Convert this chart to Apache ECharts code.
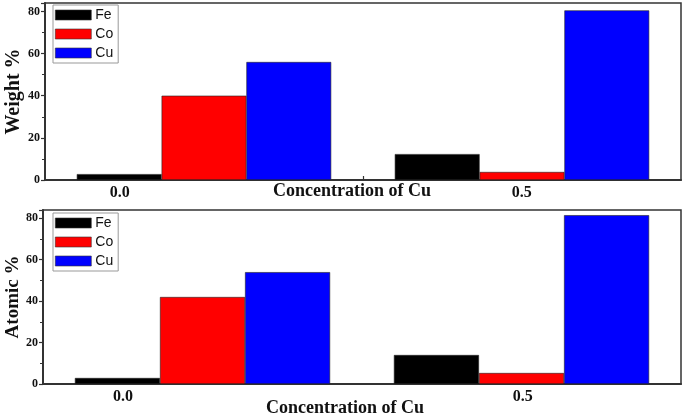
<!DOCTYPE html>
<html><head><meta charset="utf-8">
<script src="https://cdn.jsdelivr.net/npm/echarts@6/dist/echarts.min.js"></script>
<style>html,body{margin:0;padding:0;background:#fff}#c{width:685px;height:414px}</style>
</head><body><div id="c"></div>
<script>
const categories = ['0.0', '0.5'];
const elements = ['Fe', 'Co', 'Cu'];
const weightFe = [2.8, 12.3];
const weightCo = [40, 3.8];
const weightCu = [56, 80.5];
const atomicFe = [2.9, 14];
const atomicCo = [42, 5.3];
const atomicCu = [54, 81.5];
const concLabels = [0, 0.5];
const bottomTicks = [0, 0.25, 0.5];
const yTickLabels = [0, 20, 40, 60, 80];
const colors = ['#000000', '#ff0000', '#0000ff'];

const serif = 'Liberation Serif';
const axisColor = '#333';

function topTicks(min, max) {
  const out = [];
  for (let i = 1; i < 10; i++) out.push(min + i * (max - min) / 10);
  return out;
}

function valueX(gridIndex, min, max, ticks, namePadRight, nameGap, labelMargin) {
  return {
    type: 'value', gridIndex, position: 'bottom', min, max,
    axisLine: { show: true, onZero: false, lineStyle: { color: axisColor, width: 2 } },
    axisTick: { show: true, inside: true, length: 4, customValues: ticks, lineStyle: { color: axisColor, width: 1.2 } },
    axisLabel: { customValues: concLabels, formatter: v => v.toFixed(1), margin: labelMargin,
      fontFamily: serif, fontWeight: 'bold', fontSize: 16, color: '#111' },
    splitLine: { show: false },
    name: 'Concentration of Cu', nameLocation: 'middle', nameGap: nameGap, nameMoveOverlap: false,
    nameTextStyle: { fontFamily: serif, fontWeight: 'bold', fontSize: 18, color: '#111', padding: [0, namePadRight, 0, 0] }
  };
}

function yAx(gridIndex, name, fs, gap) {
  return {
    type: 'value', gridIndex, min: 0, max: 84, interval: 20,
    axisLine: { show: true, onZero: false, lineStyle: { color: axisColor, width: 2 } },
    axisTick: { show: true, length: 4, lineStyle: { color: axisColor, width: 1.2 } },
    minorTick: { show: true, splitNumber: 2, length: 3, lineStyle: { color: axisColor, width: 1 } },
    axisLabel: { formatter: v => (yTickLabels.indexOf(v) >= 0 ? String(v) : ''), margin: 5,
      fontFamily: serif, fontWeight: 'bold', fontSize: 12, color: '#111' },
    splitLine: { show: false },
    name, nameLocation: 'middle', nameGap: gap, nameMoveOverlap: false,
    nameTextStyle: { fontFamily: serif, fontWeight: 'bold', fontSize: fs, color: '#111' }
  };
}

function bars(gridIdx, data) {
  return elements.map((el, i) => ({
    name: el, type: 'bar', xAxisIndex: gridIdx * 2, yAxisIndex: gridIdx,
    data: data[i], barGap: '0%', barCategoryGap: '20%',
    itemStyle: { color: colors[i], borderColor: '#222', borderWidth: 0.6 },
    emphasis: { disabled: true }
  }));
}

function legend(top) {
  return {
    data: elements, orient: 'vertical', left: 53, top,
    icon: 'rect', itemWidth: 36, itemHeight: 10, itemGap: 5,
    padding: [3, 5, 3, 2], borderColor: '#999', borderWidth: 1,
    textStyle: { fontFamily: 'Liberation Sans', fontSize: 14, color: '#111', padding: [0, 0, 0, -1] },
    itemStyle: { borderColor: '#333', borderWidth: 0.6 }
  };
}

const tMin = -0.093, tMax = 0.698, bMin = -0.1, bMax = 0.698;

const option = {
  animation: false,
  grid: [
    { left: 45, right: 4, top: 3, height: 177, show: true, borderColor: axisColor, borderWidth: 1.5, outerBoundsMode: 'none', containLabel: false },
    { left: 43, right: 4, top: 210, height: 174, show: true, borderColor: axisColor, borderWidth: 1.5, outerBoundsMode: 'none', containLabel: false }
  ],
  legend: [legend(5), legend(213)],
  xAxis: [
    { type: 'category', gridIndex: 0, data: categories, show: false },
    valueX(0, tMin, tMax, topTicks(tMin, tMax), 22, 2, 5),
    { type: 'category', gridIndex: 1, data: categories, show: false },
    valueX(1, bMin, bMax, bottomTicks, 34, 15, 5)
  ],
  yAxis: [yAx(0, 'Weight %', 20, 21), yAx(1, 'Atomic %', 19, 20)],
  series: [
    ...bars(0, [weightFe, weightCo, weightCu]),
    ...bars(1, [atomicFe, atomicCo, atomicCu])
  ]
};
option.series.forEach(s => { s.xAxisIndex = s.yAxisIndex === 0 ? 0 : 2; });
echarts.init(document.getElementById('c')).setOption(option);
</script></body></html>
